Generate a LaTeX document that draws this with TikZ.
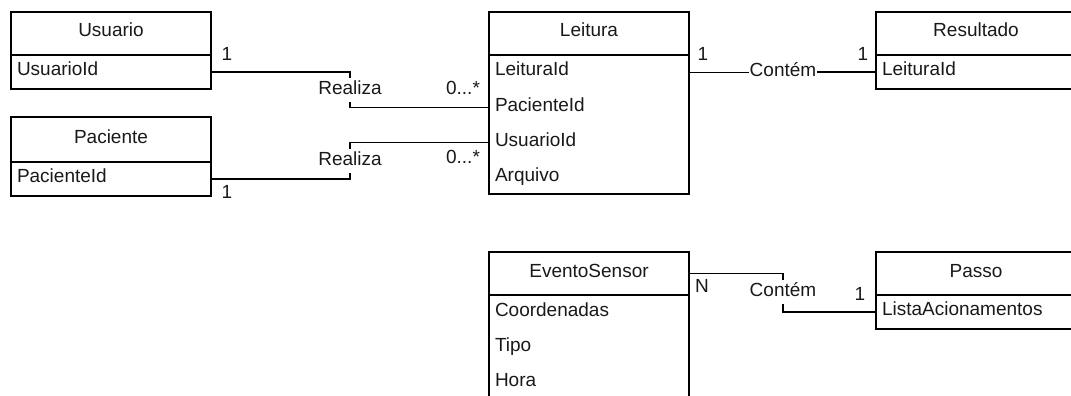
\documentclass[tikz,border=0pt]{standalone}
\usepackage{fontspec}
\setmainfont{Liberation Sans}
\begin{document}
\begin{tikzpicture}[x=1pt,y=-1pt,
  every node/.style={font=\fontsize{19}{22}\selectfont, text=black!90, outer sep=0pt},
  hdr/.style={draw, line width=1.8pt, anchor=north west, minimum width=200pt, minimum height=43pt, inner sep=0pt, text height=13pt, text depth=6pt},
  bodybox/.style={draw, line width=1.8pt, anchor=north west, minimum width=200pt, inner sep=0pt},
  rowtext/.style={anchor=north west, minimum height=35pt, text width=188pt, align=left, inner xsep=6pt, inner ysep=0pt, text height=13pt, text depth=6pt},
  rowbox/.style={rowtext, draw, line width=1.8pt, minimum height=34pt},
  conn/.style={line width=1.5pt},
  rel/.style={anchor=base, inner xsep=0.5pt, inner ysep=3pt, text height=13pt, text depth=5pt},
  mult/.style={anchor=base, inner sep=0pt}
]
\useasboundingbox (0,0) rectangle (1071,396);
\clip (0,0) rectangle (1071,396);

% Usuario
\node[hdr] (usuH) at (11,12) {Usuario};
\node[rowbox] (usuB) at (usuH.south west) {UsuarioId};

% Paciente
\node[hdr, minimum height=45pt] (pacH) at (11,117) {Paciente};
\node[rowbox] (pacB) at (pacH.south west) {PacienteId};

% Leitura
\node[hdr] (leiH) at (489,12) {Leitura};
\node[bodybox, minimum height=139pt] (leiB) at (leiH.south west) {};
\node[rowtext] (leiR1) at (leiB.north west) {LeituraId};
\node[rowtext] (leiR2) at (leiR1.south west) {PacienteId};
\node[rowtext] (leiR3) at (leiR2.south west) {UsuarioId};
\node[rowtext] (leiR4) at (leiR3.south west) {Arquivo};

% Resultado
\node[hdr] (resH) at (876,12) {Resultado};
\node[rowbox] (resB) at (resH.south west) {LeituraId};

% EventoSensor
\node[hdr] (evtH) at (489,252) {EventoSensor};
\node[bodybox, minimum height=130pt] (evtB) at (evtH.south west) {};
\node[rowtext] (evtR1) at (evtB.north west) {Coordenadas};
\node[rowtext] (evtR2) at (evtR1.south west) {Tipo};
\node[rowtext] (evtR3) at (evtR2.south west) {Hora};

% Passo
\node[hdr] (pasH) at (876,252) {Passo};
\node[rowbox] (pasB) at (pasH.south west) {ListaAcionamentos};

% relationship labels
\node[rel] (rea1) at (350,94) {Realiza};
\node[rel] (rea2) at (350,165) {Realiza};
\node[rel] (con1) at (783,76.5) {Contém};
\node[rel] (con2) at (783,296) {Contém};

% connectors
\draw[conn] (usuB.east) -| (rea1.north);
\draw[conn] (rea1.south) |- (leiR2.west);
\draw[conn] (pacB.east) -| (rea2.south);
\draw[conn] (rea2.north) |- (leiR3.west);
\draw[conn] (leiR1.east) -- (leiR1.east -| con1.west);
\draw[conn] (con1.east |- resB.west) -- (resB.west);
\draw[conn] (evtH.east) -| (con2.north);
\draw[conn] (con2.south) |- (pasB.west);

% multiplicities
\node[mult] (m1) at (227,60) {1};
\node[mult] (m2) at (227,198) {1};
\node[mult] (m3) at (463,95) {0...*};
\node[mult] (m4) at (463,163) {0...*};
\node[mult] (m5) at (703,60) {1};
\node[mult] (m6) at (863,60) {1};
\node[mult] (m7) at (702,292) {N};
\node[mult] (m8) at (860,300) {1};
\end{tikzpicture}
\end{document}
